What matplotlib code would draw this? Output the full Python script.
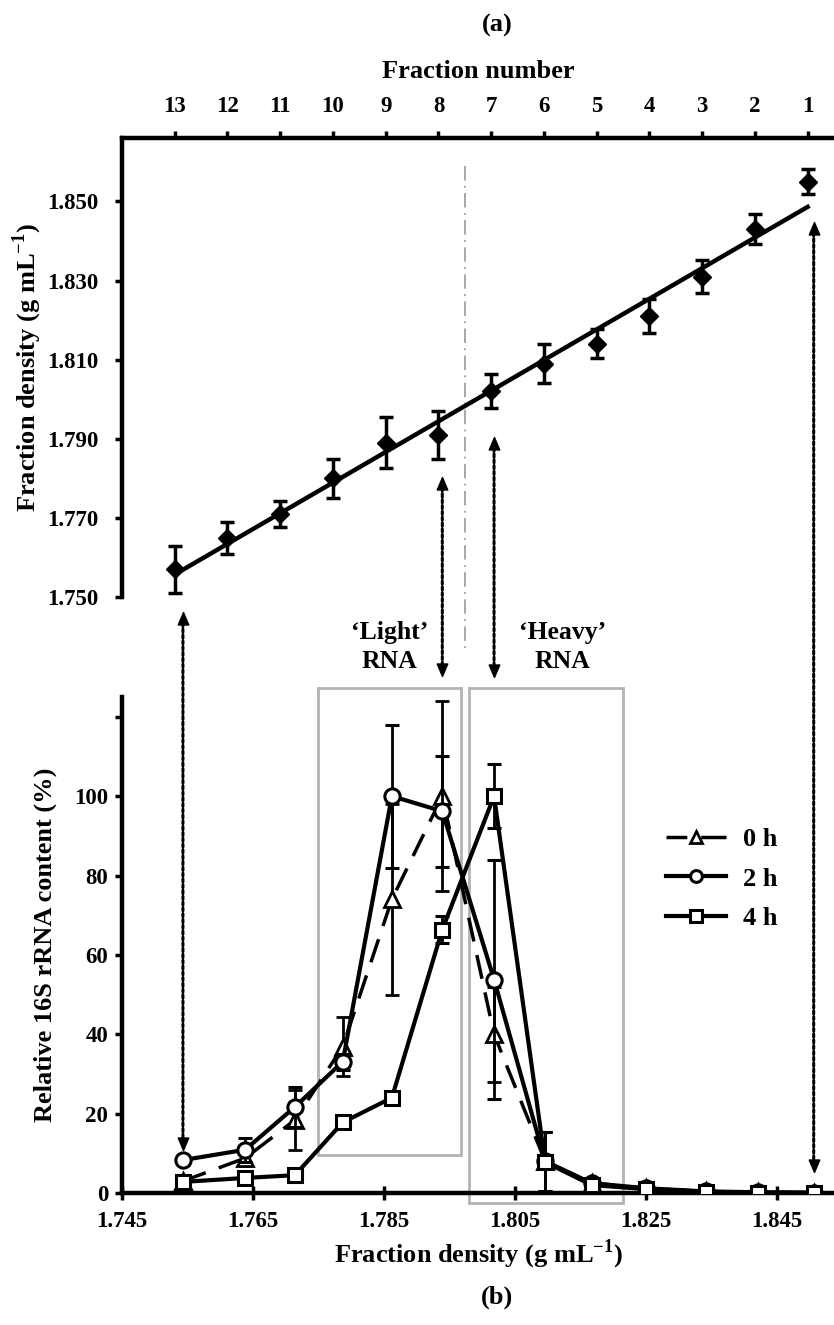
import numpy as np
import matplotlib
matplotlib.use("Agg")
import matplotlib.pyplot as plt
from matplotlib.patches import Rectangle, ConnectionPatch
from matplotlib.lines import Line2D
from matplotlib.transforms import blended_transform_factory

plt.rcParams['font.family'] = ['Liberation Serif', 'DejaVu Serif']
plt.rcParams['font.weight'] = 'bold'
plt.rcParams['mathtext.fontset'] = 'custom'
plt.rcParams['mathtext.rm'] = 'Liberation Serif:bold'
plt.rcParams['mathtext.bf'] = 'Liberation Serif:bold'

# (a) gradient: density of each fraction
fractions = [13, 12, 11, 10, 9, 8, 7, 6, 5, 4, 3, 2, 1]
frac_density = [1.757, 1.765, 1.771, 1.780, 1.789, 1.791, 1.802, 1.809,
                1.814, 1.821, 1.831, 1.843, 1.855]
frac_density_err = [0.006, 0.004, 0.0033, 0.005, 0.0065, 0.006, 0.0043,
                    0.005, 0.0037, 0.0043, 0.0042, 0.0037, 0.0032]

# (b) relative 16S rRNA content per fraction
density_b = [1.7543, 1.7638, 1.7714, 1.7787, 1.7862, 1.7939, 1.8018,
             1.8096, 1.8167, 1.8250, 1.8342, 1.8421, 1.8506]
rna_0h = [3.0, 8.8, 18.4, 36.9, 74.0, 100.0, 40.0, 8.0, 2.5, 1.2, 0.4, 0.2, 0.1]
err_0h = [1.0, 2.0, 7.6, 7.5, 24.0, 24.0, 12.0, 7.5, 1.0, 0.5, 0.3, 0.2, 0.1]
rna_2h = [8.3, 10.9, 21.7, 33.1, 100.0, 96.2, 53.8, 8.0, 2.5, 1.2, 0.4, 0.2, 0.1]
err_2h = [1.0, 3.0, 5.0, 2.0, 18.0, 14.0, 30.0, 7.5, 1.0, 0.5, 0.3, 0.2, 0.1]
rna_4h = [2.8, 3.8, 4.5, 17.8, 24.0, 66.4, 100.0, 7.8, 2.0, 1.0, 0.3, 0.1, 0.0]
err_4h = [0.5, 0.5, 0.5, 1.0, 1.0, 3.3, 8.0, 7.5, 0.5, 0.3, 0.2, 0.1, 0.1]

# arrows linking fractions (a) to densities (b)
arrow_idx = [0, 5, 6, 12]                    # fractions 13, 8, 7, 1
arrow_top = [1.7462, 1.7804, 1.7905, 1.8449]  # tip in (a) density units
arrow_bottom = [10.9, 130.3, 130.0, 5.3]      # tip in (b) % units

fig = plt.figure(figsize=(8.34, 13.25), dpi=100)
ax1 = fig.add_axes([0.1463, 0.5494, 0.8537, 0.3464])
ax2 = fig.add_axes([0.1463, 0.0996, 0.8537, 0.3744])

TICK_FS = 16.5
LABEL_FS = 19

# ---- panel (a)
ax1.errorbar(fractions, frac_density, yerr=frac_density_err, fmt='D', color='black',
             ms=9.5, capsize=5, capthick=2.5, elinewidth=2.5, zorder=3)
fit = np.polyfit(fractions, frac_density, 1)
ax1.plot([13, 1], np.polyval(fit, [13, 1]), color='black', lw=3.2, zorder=2)

ax1.set_xlim(14, 0.5)
ax1.set_ylim(1.750, 1.866)
ax1.xaxis.tick_top()
ax1.xaxis.set_label_position('top')
ax1.set_xticks(fractions)
ax1.set_xticklabels([str(f) for f in fractions])
ax1.set_yticks(np.arange(1.750, 1.851, 0.02))
ax1.set_yticklabels([f'{v:.3f}' for v in np.arange(1.750, 1.851, 0.02)])
for s in ['right', 'bottom']:
    ax1.spines[s].set_visible(False)
for s in ['left', 'top']:
    ax1.spines[s].set_linewidth(3.2)
ax1.tick_params(axis='both', labelsize=TICK_FS, width=2.5, length=5)
ax1.tick_params(axis='x', pad=10)
ax1.tick_params(axis='y', pad=12)
ax1.set_xlabel('Fraction number', fontsize=LABEL_FS, fontweight='bold', labelpad=13)
ax1.set_ylabel('Fraction density (g mL$^{-1}$)', fontsize=LABEL_FS, fontweight='bold',
               labelpad=2)

# gray dash-dot separator between fraction 8 and 7
ax1.plot([7.5, 7.5], [1.8589, 1.7358], color='#a0a0a0', lw=1.3,
         ls=(0, (8, 3, 1, 3)), clip_on=False, zorder=1)

# ---- panel (b)
style_0h = dict(marker='^', ls=(0, (7, 4)), color='black', mfc='white', mec='black',
                mew=2, ms=11, lw=2.5)
style_2h = dict(marker='o', ls='-', color='black', mfc='white', mec='black',
                mew=2.2, ms=11, lw=3)
style_4h = dict(marker='s', ls='-', color='black', mfc='white', mec='black',
                mew=2.2, ms=10.5, lw=3)
bar_kw = dict(capsize=5, capthick=2, elinewidth=2)

ax2.errorbar(density_b, rna_0h, yerr=err_0h, zorder=3, **style_0h, **bar_kw)
ax2.errorbar(density_b, rna_2h, yerr=err_2h, zorder=4, **style_2h, **bar_kw)
ax2.errorbar(density_b, rna_4h, yerr=err_4h, zorder=5, **style_4h, **bar_kw)

ax2.set_xlim(1.745, 1.8537)
ax2.set_ylim(0, 125)
ax2.set_xticks(np.arange(1.745, 1.846, 0.02))
ax2.set_xticklabels([f'{v:.3f}' for v in np.arange(1.745, 1.846, 0.02)])
ax2.set_yticks([0, 20, 40, 60, 80, 100, 120])
ax2.set_yticklabels(['0', '20', '40', '60', '80', '100', ''])
for s in ['right', 'top']:
    ax2.spines[s].set_visible(False)
for s in ['left', 'bottom']:
    ax2.spines[s].set_linewidth(3.2)
ax2.tick_params(axis='both', labelsize=TICK_FS, width=2.5, length=5)
ax2.tick_params(axis='y', pad=5)
ax2.tick_params(axis='x', direction='inout', length=10, pad=8)
ax2.set_xlabel('Fraction density (g mL$^{-1}$)', fontsize=LABEL_FS, fontweight='bold',
               labelpad=4)
ax2.set_ylabel('Relative 16S rRNA content (%)', fontsize=LABEL_FS, fontweight='bold',
               labelpad=12)

# 'Light' / 'Heavy' boxes
ax2.add_patch(Rectangle((1.7749, 9.6), 1.7968 - 1.7749, 127.3 - 9.6, fill=False,
                        ec='#b3b3b3', lw=2, clip_on=False, zorder=1))
ax2.add_patch(Rectangle((1.7980, -2.5), 1.8215 - 1.7980, 127.3 + 2.5, fill=False,
                        ec='#b3b3b3', lw=2, clip_on=False, zorder=1))
ax2.text(1.7858, 137.5, '\u2018Light\u2019\nRNA', ha='center', va='center',
         fontsize=18.5, fontweight='bold', linespacing=1.35)
ax2.text(1.8122, 137.5, '\u2018Heavy\u2019\nRNA', ha='center', va='center',
         fontsize=18.5, fontweight='bold', linespacing=1.35)

handles = [Line2D([], [], **{**style_0h, 'ms': 8, 'ls': (3, (9, 4))}),
           Line2D([], [], **{**style_2h, 'ms': 8.5}),
           Line2D([], [], **{**style_4h, 'ms': 8})]
ax2.legend(handles, ['0 h', '2 h', '4 h'], loc='upper left',
           bbox_to_anchor=(0.73, 0.785), frameon=False, fontsize=19,
           handlelength=2.3, labelspacing=0.62, handletextpad=0.65)

# dotted double-headed arrows
trans_top = blended_transform_factory(ax2.transData, ax1.transData)
head_up = [(0, 0), (-0.42, -1), (0.42, -1), (0, 0)]
head_down = [(0, 0), (-0.42, 1), (0.42, 1), (0, 0)]
for i, yt, yb in zip(arrow_idx, arrow_top, arrow_bottom):
    x = density_b[i]
    con = ConnectionPatch(xyA=(x, yt), coordsA=trans_top,
                          xyB=(x, yb), coordsB=ax2.transData,
                          arrowstyle='-', ls=(0, (1, 0.9)), lw=2.2, color='black',
                          shrinkA=4, shrinkB=4)
    fig.add_artist(con)
    ax1.plot([x], [yt], marker=head_up, ms=18, color='black', mec='black',
             transform=trans_top, clip_on=False, zorder=6)
    ax2.plot([x], [yb], marker=head_down, ms=18, color='black', mec='black',
             clip_on=False, zorder=6)

fig.text(0.596, 0.981, '(a)', ha='center', va='center', fontsize=19, fontweight='bold')
fig.text(0.596, 0.021, '(b)', ha='center', va='center', fontsize=19, fontweight='bold')

fig.savefig('out.png', dpi=100)
